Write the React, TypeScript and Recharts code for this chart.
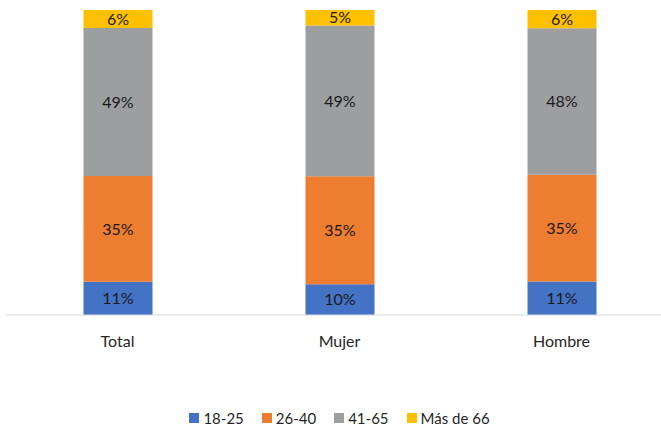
import { BarChart, Bar, XAxis, YAxis, LabelList } from 'recharts'

const categories = ['Total', 'Mujer', 'Hombre']
const edad1825 = [11, 10, 11]
const edad2640 = [35, 35, 35]
const edad4165 = [49, 49, 48]
const mas66 = [6, 5, 6]

const series = [
  { key: 'a', name: '18-25', color: '#4472C4', values: edad1825 },
  { key: 'b', name: '26-40', color: '#ED7D31', values: edad2640 },
  { key: 'c', name: '41-65', color: '#9C9E9F', values: edad4165 },
  { key: 'd', name: 'Más de 66', color: '#FFC000', values: mas66 },
]

const data = categories.map((cat, i) => {
  const row: Record<string, string | number> = { cat }
  series.forEach((s) => { row[s.key] = s.values[i] })
  return row
})

const FONT = 'Lato, "Open Sans", sans-serif'

function LegendBox() {
  return (
    <div
      style={{
        height: 20, display: 'flex', justifyContent: 'center', alignItems: 'center',
        gap: 18, fontFamily: FONT, fontSize: 15, color: '#262626', lineHeight: '20px',
      }}
    >
      {series.map((s) => (
        <div key={s.key} style={{ display: 'flex', alignItems: 'center', gap: 4 }}>
          <span style={{ width: 10, height: 10, background: s.color, display: 'inline-block' }} />
          <span>{s.name}</span>
        </div>
      ))}
    </div>
  )
}

export default function App() {
  return (
    <div style={{ position: 'absolute', top: 0, left: 0, width: 661, height: 430, overflow: 'hidden', background: '#fff' }}>
      <BarChart
        width={680}
        height={400}
        data={data}
        stackOffset="expand"
        margin={{ top: 10, right: 7.5, left: 6.5, bottom: 0 }}
      >
        <XAxis
          dataKey="cat"
          height={85}
          tickLine={false}
          axisLine={{ stroke: '#D9D9D9' }}
          tick={{ fontFamily: FONT, fontSize: 16, fill: '#262626' }}
          tickMargin={15}
        />
        <YAxis hide domain={[0, 1]} />
        {series.map((s) => (
          <Bar
            key={s.key}
            dataKey={s.key}
            name={s.name}
            stackId="1"
            fill={s.color}
            barSize={69}
            isAnimationActive={false}
          >
            <LabelList
              dataKey={s.key}
              position="center"
              formatter={(v: any) => `${v}%`}
              style={{ fontFamily: FONT, fontSize: 16, fill: '#1A1A1A' }}
            />
          </Bar>
        ))}
      </BarChart>
      <div style={{ position: 'absolute', top: 408, left: 6.5, width: 666 }}>
        <LegendBox />
      </div>
    </div>
  )
}
